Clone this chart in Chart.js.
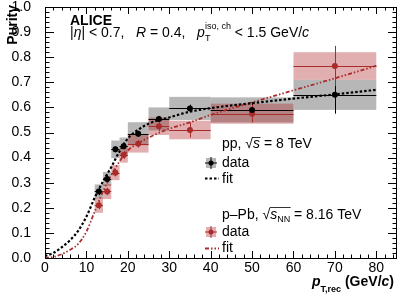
<!DOCTYPE html>
<html lang="en">
<head>
<meta charset="UTF-8">
<title>Purity vs pT,rec</title>
<script src="https://cdn.jsdelivr.net/npm/chart.js"></script>
<style>
  body { margin: 0; background: #fff; }
</style>
</head>
<body>
<canvas id="purityChart" width="407" height="299"></canvas>
<script>
// pT,rec bins (GeV/c)
const binLow    = [12, 14, 16, 18, 20, 25, 30, 40, 60];
const binHigh   = [14, 16, 18, 20, 25, 30, 40, 60, 80];
const binCenter = [13, 15, 17, 19, 22.5, 27.5, 35, 50, 70];

// pp, sqrt(s) = 8 TeV
const ppPurity = [0.265, 0.315, 0.433, 0.445, 0.495, 0.554, 0.596, 0.59, 0.65];
const ppStat   = [0.015, 0.015, 0.012, 0.012, 0.012, 0.012, 0.015, 0.03, 0.075];
const ppSyst   = [0.028, 0.028, 0.035, 0.035, 0.046, 0.046, 0.046, 0.05, 0.06];

// p-Pb, sqrt(sNN) = 8.16 TeV
const pPbPurity = [0.21, 0.265, 0.34, 0.41, 0.455, 0.525, 0.51, 0.575, 0.765];
const pPbStat   = [0.015, 0.015, 0.015, 0.015, 0.015, 0.02, 0.03, 0.035, 0.08];
const pPbSyst   = [0.03, 0.03, 0.03, 0.03, 0.035, 0.035, 0.037, 0.04, 0.055];

// fit curves
const ppFitX = [0, 2, 4, 6, 8, 10, 12, 14, 16, 18, 20, 22, 25, 30, 35, 40, 50, 60, 70, 80];
const ppFitY = [0.008, 0.02, 0.042, 0.07, 0.108, 0.165, 0.24, 0.305, 0.362, 0.425, 0.476, 0.505, 0.535, 0.56, 0.583, 0.597, 0.617, 0.635, 0.652, 0.67];
const pPbFitX = [0, 2, 4, 6, 8, 10, 12, 14, 16, 18, 20, 23, 27, 30, 35, 40, 50, 60, 70, 80];
const pPbFitY = [0.0, 0.004, 0.015, 0.032, 0.056, 0.105, 0.185, 0.265, 0.33, 0.385, 0.428, 0.462, 0.495, 0.515, 0.54, 0.57, 0.62, 0.668, 0.716, 0.766];

const FAM = '"Liberation Sans", Arial, Helvetica, sans-serif';
const ppColor = '#000000';
const pPbColor = '#a82c2c';
const ppBox = 'rgba(95,95,95,0.45)';
const pPbBox = 'rgba(175,45,45,0.38)';

function toPts(xs, ys) { return xs.map((x, i) => ({ x: x, y: ys[i] })); }

function runs(ctx, x, y, list) {
    list.forEach(r => {
        ctx.font = (r.st || '') + ' ' + (r.sz || 14) + 'px ' + FAM;
        ctx.fillText(r.t, x, y + (r.dy || 0));
        const w = ctx.measureText(r.t).width;
        if (!r.stay) x += w;
    });
    return x;
}

function overline(ctx, x0, x1, y) {
    ctx.save();
    ctx.strokeStyle = '#000';
    ctx.lineWidth = 0.8;
    ctx.beginPath(); ctx.moveTo(x0, y); ctx.lineTo(x1, y); ctx.stroke();
    ctx.restore();
}

function dataMarker(ctx, cx, cy, box, col) {
    ctx.fillStyle = box;
    ctx.fillRect(cx - 5, cy - 5, 10, 10);
    ctx.strokeStyle = col; ctx.lineWidth = 1;
    ctx.beginPath();
    ctx.moveTo(cx - 6, cy); ctx.lineTo(cx + 6, cy);
    ctx.moveTo(cx, cy - 6); ctx.lineTo(cx, cy + 6);
    ctx.stroke();
    ctx.fillStyle = col;
    ctx.beginPath(); ctx.arc(cx, cy, 2.5, 0, Math.PI * 2); ctx.fill();
}

const rootStyle = {
    id: 'rootStyle',
    beforeDatasetsDraw(chart) {
        const ctx = chart.ctx, xs = chart.scales.x, ys = chart.scales.y;
        ctx.save();
        // systematic boxes
        [[ppPurity, ppSyst, ppBox], [pPbPurity, pPbSyst, pPbBox]].forEach(([val, sys, col]) => {
            ctx.fillStyle = col;
            val.forEach((v, i) => {
                const x0 = xs.getPixelForValue(binLow[i]), x1 = xs.getPixelForValue(binHigh[i]);
                const y0 = ys.getPixelForValue(v + sys[i]), y1 = ys.getPixelForValue(v - sys[i]);
                ctx.fillRect(x0, y0, x1 - x0, y1 - y0);
            });
        });
        // statistical bars + bin widths
        [[ppPurity, ppStat, ppColor], [pPbPurity, pPbStat, pPbColor]].forEach(([val, st, col]) => {
            ctx.strokeStyle = col; ctx.lineWidth = 1;
            val.forEach((v, i) => {
                const xc = Math.round(xs.getPixelForValue(binCenter[i])) + 0.5;
                const yc = Math.round(ys.getPixelForValue(v)) + 0.5;
                ctx.beginPath();
                ctx.moveTo(xs.getPixelForValue(binLow[i]), yc);
                ctx.lineTo(xs.getPixelForValue(binHigh[i]), yc);
                ctx.moveTo(xc, ys.getPixelForValue(v + st[i]));
                ctx.lineTo(xc, ys.getPixelForValue(v - st[i]));
                ctx.stroke();
            });
        });
        ctx.restore();
    },
    afterDraw(chart) {
        const ctx = chart.ctx, a = chart.chartArea, xs = chart.scales.x, ys = chart.scales.y;
        ctx.save();
        ctx.strokeStyle = '#000'; ctx.lineWidth = 1;
        ctx.strokeRect(a.left + 0.5, a.top + 0.5, a.right - a.left - 1, a.bottom - a.top);
        ctx.beginPath();
        for (let v = 0; v <= 85; v += 2) {
            const px = Math.round(xs.getPixelForValue(v)) + 0.5;
            const len = v % 10 === 0 ? 7 : 3.5;
            ctx.moveTo(px, a.bottom); ctx.lineTo(px, a.bottom - len);
            ctx.moveTo(px, a.top); ctx.lineTo(px, a.top + len);
        }
        for (let k = 0; k <= 50; k++) {
            const py = Math.round(ys.getPixelForValue(k * 0.02)) + 0.5;
            const len = k % 5 === 0 ? 9 : 4.5;
            ctx.moveTo(a.left, py); ctx.lineTo(a.left + len, py);
            ctx.moveTo(a.right, py); ctx.lineTo(a.right - len, py);
        }
        ctx.stroke();

        ctx.fillStyle = '#000';
        ctx.textBaseline = 'alphabetic';
        ctx.textAlign = 'left';
        // header
        runs(ctx, 70, 25, [{ t: 'ALICE', st: 'bold' }]);
        runs(ctx, 70, 37, [
            { t: '|' }, { t: 'η', st: 'italic' }, { t: '| < 0.7,   ' },
            { t: 'R', st: 'italic' }, { t: ' = 0.4,   ' },
            { t: 'p', st: 'italic' },
            { t: 'T', sz: 9, dy: 4, stay: true }, { t: 'iso, ch', sz: 9, dy: -8 },
            { t: ' < 1.5 GeV/' }, { t: 'c', st: 'italic' }
        ]);

        // legend: pp
        let x = runs(ctx, 222, 148, [{ t: 'pp, √' }]);
        let x2 = runs(ctx, x, 148, [{ t: 's', st: 'italic' }]);
        overline(ctx, x - 0.5, x2 + 0.5, 137.5);
        runs(ctx, x2, 148, [{ t: ' = 8 TeV' }]);
        dataMarker(ctx, 211, 163, ppBox, ppColor);
        ctx.fillStyle = '#000';
        runs(ctx, 222, 167, [{ t: 'data' }]);
        ctx.strokeStyle = ppColor; ctx.lineWidth = 2; ctx.setLineDash([2.5, 2]);
        ctx.beginPath(); ctx.moveTo(205, 178.5); ctx.lineTo(219, 178.5); ctx.stroke();
        ctx.setLineDash([]);
        runs(ctx, 222, 183, [{ t: 'fit' }]);

        // legend: p-Pb
        x = runs(ctx, 222, 219, [{ t: 'p–Pb, √' }]);
        x2 = runs(ctx, x, 219, [{ t: 's', st: 'italic' }, { t: 'NN', sz: 9, dy: 3 }]);
        overline(ctx, x - 0.5, x2 + 0.5, 207.5);
        runs(ctx, x2, 219, [{ t: ' = 8.16 TeV' }]);
        dataMarker(ctx, 211, 232, pPbBox, pPbColor);
        ctx.fillStyle = '#000';
        runs(ctx, 222, 236, [{ t: 'data' }]);
        ctx.strokeStyle = pPbColor; ctx.lineWidth = 1.8; ctx.setLineDash([4, 2, 1.5, 2, 1.5, 2]);
        ctx.beginPath(); ctx.moveTo(205, 248.5); ctx.lineTo(219, 248.5); ctx.stroke();
        ctx.setLineDash([]);
        runs(ctx, 222, 252, [{ t: 'fit' }]);

        // axis titles
        ctx.save();
        ctx.translate(17, 5);
        ctx.rotate(-Math.PI / 2);
        ctx.textAlign = 'right';
        ctx.font = 'bold 14px ' + FAM;
        ctx.fillText('Purity', 0, 0);
        ctx.restore();

        runs(ctx, 312, 286, [
            { t: 'p', st: 'bold italic' },
            { t: 'T,rec', st: 'bold', sz: 9, dy: 6 },
            { t: ' (GeV/', st: 'bold' }, { t: 'c', st: 'bold italic' }, { t: ')', st: 'bold' }
        ]);
        ctx.restore();
    }
};

const ctx = document.getElementById('purityChart').getContext('2d');
new Chart(ctx, {
    type: 'scatter',
    data: {
        datasets: [
            {
                label: 'pp data',
                data: toPts(binCenter, ppPurity),
                pointRadius: 3, pointBackgroundColor: ppColor, pointBorderWidth: 0,
                showLine: false, order: 0
            },
            {
                label: 'p-Pb data',
                data: toPts(binCenter, pPbPurity),
                pointRadius: 3, pointBackgroundColor: pPbColor, pointBorderWidth: 0,
                showLine: false, order: 0
            },
            {
                label: 'pp fit',
                data: toPts(ppFitX, ppFitY),
                showLine: true, pointRadius: 0,
                borderColor: ppColor, borderWidth: 2.2, borderDash: [2.5, 2],
                cubicInterpolationMode: 'monotone', order: 1
            },
            {
                label: 'p-Pb fit',
                data: toPts(pPbFitX, pPbFitY),
                showLine: true, pointRadius: 0,
                borderColor: pPbColor, borderWidth: 1.8, borderDash: [4, 2, 1.5, 2, 1.5, 2],
                cubicInterpolationMode: 'monotone', order: 1
            }
        ]
    },
    options: {
        responsive: false,
        animation: false,
        devicePixelRatio: 1,
        layout: { padding: { top: 7, right: 10, left: 0, bottom: 0 } },
        plugins: { legend: { display: false }, tooltip: { enabled: false } },
        scales: {
            x: {
                type: 'linear', min: 0, max: 85,
                grid: { display: false }, border: { display: false },
                ticks: {
                    stepSize: 10, padding: -5, color: '#000', autoSkip: false, maxRotation: 0,
                    font: { family: FAM, size: 14, lineHeight: 1 },
                    callback: v => (v % 10 === 0 && v <= 80) ? String(v) : ''
                },
                afterFit: s => { s.height = 41; s.paddingLeft = 0; s.paddingRight = 0; }
            },
            y: {
                min: 0, max: 1,
                grid: { display: false }, border: { display: false },
                ticks: {
                    stepSize: 0.1, padding: 6, color: '#000',
                    font: { family: FAM, size: 14, lineHeight: 1 },
                    callback: v => v.toFixed(1)
                },
                afterFit: s => { s.width = 45; s.paddingTop = 0; s.paddingBottom = 0; }
            }
        }
    },
    plugins: [rootStyle]
});
</script>
</body>
</html>
